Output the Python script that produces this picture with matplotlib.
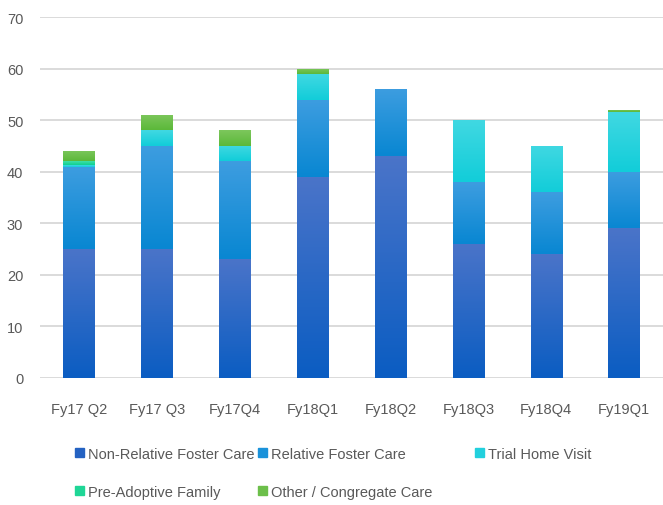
import matplotlib
matplotlib.use("Agg")
import matplotlib.pyplot as plt
from matplotlib.patches import Patch
from matplotlib.colors import LinearSegmentedColormap
import numpy as np

categories = ["Fy17 Q2", "Fy17 Q3", "Fy17Q4", "Fy18Q1", "Fy18Q2", "Fy18Q3", "Fy18Q4", "Fy19Q1"]
series_names = ["Non-Relative Foster Care", "Relative Foster Care", "Trial Home Visit",
                "Pre-Adoptive Family", "Other / Congregate Care"]
non_relative = [25, 25, 23, 39, 43, 26, 24, 29]
relative = [16, 20, 19, 15, 13, 12, 12, 11]
trial_home = [0.3, 3, 3, 5, 0, 12, 9, 11.5]
pre_adoptive = [0.7, 0, 0, 0, 0, 0, 0, 0]
other = [2, 3, 3, 1, 0, 0, 0, 0.5]
yticks = [0, 10, 20, 30, 40, 50, 60, 70]

colors = ["#2462c2", "#1a92da", "#22d0dd", "#1fd696", "#6cbf4a"]
# (bottom, top) shades for the gradient fill of each series
gradients = [("#0b5dc2", "#4a74c9"), ("#0987d2", "#3d9de0"), ("#12cdd9", "#40d8e2"),
             ("#10d090", "#3de0a8"), ("#5cb83a", "#7cc75c")]

plt.rcParams['font.family'] = ['Liberation Sans', 'DejaVu Sans']

fig = plt.figure(figsize=(6.63, 5.06), dpi=100)
ax = fig.add_axes([40/663, 127/506, 623/663, (379-18)/506])

x = np.arange(len(categories))
bottom = np.zeros(len(categories))
grad = np.linspace(0, 1, 64).reshape(-1, 1)
for vals, c, (cb, ct) in zip([non_relative, relative, trial_home, pre_adoptive, other], colors, gradients):
    v = np.array(vals, dtype=float)
    bars = ax.bar(x, v, width=0.4, bottom=bottom, color=c, zorder=3, linewidth=0)
    cmap = LinearSegmentedColormap.from_list("g", [cb, ct])
    for p in bars.patches:
        if p.get_height() <= 0:
            continue
        x0, y0, w, h = p.get_x(), p.get_y(), p.get_width(), p.get_height()
        im = ax.imshow(grad, cmap=cmap, extent=[x0, x0 + w, y0, y0 + h], origin="lower",
                       aspect="auto", zorder=3.5, interpolation="bilinear")
        im.set_clip_path(p)
    bottom += v

ax.set_xlim(-0.5, len(categories) - 0.5)
ax.set_ylim(0, 70)
ax.set_yticks(yticks)
ax.set_yticklabels([str(t) for t in yticks])
ax.set_xticks(x)
ax.set_xticklabels(categories)
ax.yaxis.grid(True, color="#d4d4d4", linewidth=1.2, zorder=0)
ax.set_axisbelow(True)
for s in ax.spines.values():
    s.set_visible(False)
ax.tick_params(axis='both', length=0, labelsize=10.5, colors="#595959")
ax.tick_params(axis='x', pad=17)
ax.tick_params(axis='y', pad=12)

# Legend entries placed like the original (fixed column slots)
pos = [(76, 455), (259, 455), (476, 455), (76, 493), (259, 493)]
for name, c, (px, py) in zip(series_names, colors, pos):
    fig.legend(handles=[Patch(color=c)], labels=[name],
               loc="center left", bbox_to_anchor=(px/663 - 0.012, 1 - py/506),
               frameon=False, fontsize=10.5, handlelength=0.6, handleheight=0.6,
               handletextpad=0.3, borderpad=0, labelcolor="#595959")

fig.savefig("out.png", dpi=100)
